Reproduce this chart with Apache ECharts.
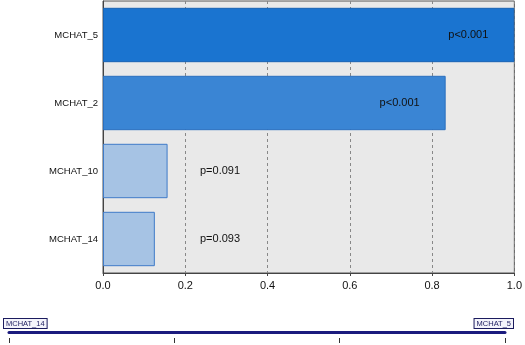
<!DOCTYPE html>
<html>
<head>
<meta charset="utf-8">
<script src="https://cdn.jsdelivr.net/npm/echarts@6/dist/echarts.min.js"></script>
<style>
  html, body { margin: 0; padding: 0; background: #fff; }
  #chart { width: 525px; height: 345px; }
</style>
</head>
<body>
<div id="chart"></div>
<script>
// categories bottom -> top (category y axis starts at the bottom)
var categories = ['MCHAT_14', 'MCHAT_10', 'MCHAT_2', 'MCHAT_5'];
var importance = [0.126, 0.157, 0.833, 1.0];
var pLabels = ['p=0.093', 'p=0.091', 'p<0.001', 'p<0.001'];

// bar colours, bottom -> top
var barColors = ['#a6c3e4', '#a6c3e4', '#3a85d4', '#1a74d0'];
var borderColors = ['#3f7bc8', '#3f7bc8', '#2a6fbf', '#1762b3'];

var chart = echarts.init(document.getElementById('chart'));

var barData = importance.map(function (v, i) {
  var big = v > 0.5;
  return {
    value: v,
    itemStyle: { color: barColors[i], borderColor: borderColors[i], borderWidth: 1 },
    label: {
      show: true,
      formatter: pLabels[i],
      position: big ? 'insideRight' : 'insideLeft',
      distance: big ? 26 : 97
    }
  };
});

var font = 'Liberation Sans, Arial, sans-serif';

chart.setOption({
  animation: false,
  backgroundColor: '#fff',
  grid: [
    {
      left: 103, right: 9, top: 1, bottom: 72,
      show: true, backgroundColor: '#e9e9e9', borderColor: '#555', borderWidth: 1
    },
    // slider strip: navy line
    { left: 9, right: 20, top: 332, height: 0 },
    // slider strip: ticks below the line
    { left: 9, right: 20, top: 338, height: 0 },
    // slider strip: end labels
    { left: 2, right: 12, top: 332, height: 0 }
  ],
  xAxis: [
    {
      type: 'value', gridIndex: 0,
      min: 0, max: 1, interval: 0.2,
      axisLine: { show: true, lineStyle: { color: '#444' } },
      axisTick: { show: true, length: 3, lineStyle: { color: '#444' } },
      axisLabel: {
        color: '#111', fontSize: 11, margin: 7, fontFamily: font,
        formatter: function (v) { return v.toFixed(1); }
      },
      splitLine: { show: true, lineStyle: { color: '#888', type: [3, 3], width: 1 } }
    },
    {
      type: 'category', gridIndex: 1, position: 'top',
      data: categories, boundaryGap: false,
      axisLine: { show: true, lineStyle: { color: '#1b1b7e', width: 3 } },
      axisTick: { show: false },
      axisLabel: { show: false },
      splitLine: { show: false }
    },
    {
      type: 'category', gridIndex: 2, position: 'bottom',
      data: categories, boundaryGap: false,
      axisLine: { show: false },
      axisTick: { show: true, length: 5, interval: 0, lineStyle: { color: '#333' } },
      axisLabel: { show: false },
      splitLine: { show: false }
    },
    {
      type: 'category', gridIndex: 3, position: 'top',
      data: categories, boundaryGap: false,
      axisLine: { show: false },
      axisTick: { show: false },
      axisLabel: {
        show: true, margin: 4,
        fontSize: 7.5, color: '#1b1b5e', fontFamily: font,
        backgroundColor: '#f4f4fb', borderColor: '#1b1b5e', borderWidth: 1,
        padding: [1, 2, 0, 2],
        alignMinLabel: 'left', alignMaxLabel: 'right',
        interval: function (idx) {
          return idx === 0 || idx === categories.length - 1;
        }
      },
      splitLine: { show: false }
    }
  ],
  yAxis: [
    {
      type: 'category', gridIndex: 0, data: categories,
      axisLine: { show: true, lineStyle: { color: '#444' } },
      axisTick: { show: false },
      axisLabel: { color: '#111', fontSize: 9.5, margin: 5, fontFamily: font },
      splitLine: { show: false }
    },
    { type: 'value', gridIndex: 1, show: false },
    { type: 'value', gridIndex: 2, show: false },
    { type: 'value', gridIndex: 3, show: false }
  ],
  series: [
    {
      type: 'bar', xAxisIndex: 0, yAxisIndex: 0,
      data: barData,
      barWidth: '80%',
      label: { color: '#111', fontSize: 11, fontFamily: font }
    }
  ]
});
</script>
</body>
</html>
